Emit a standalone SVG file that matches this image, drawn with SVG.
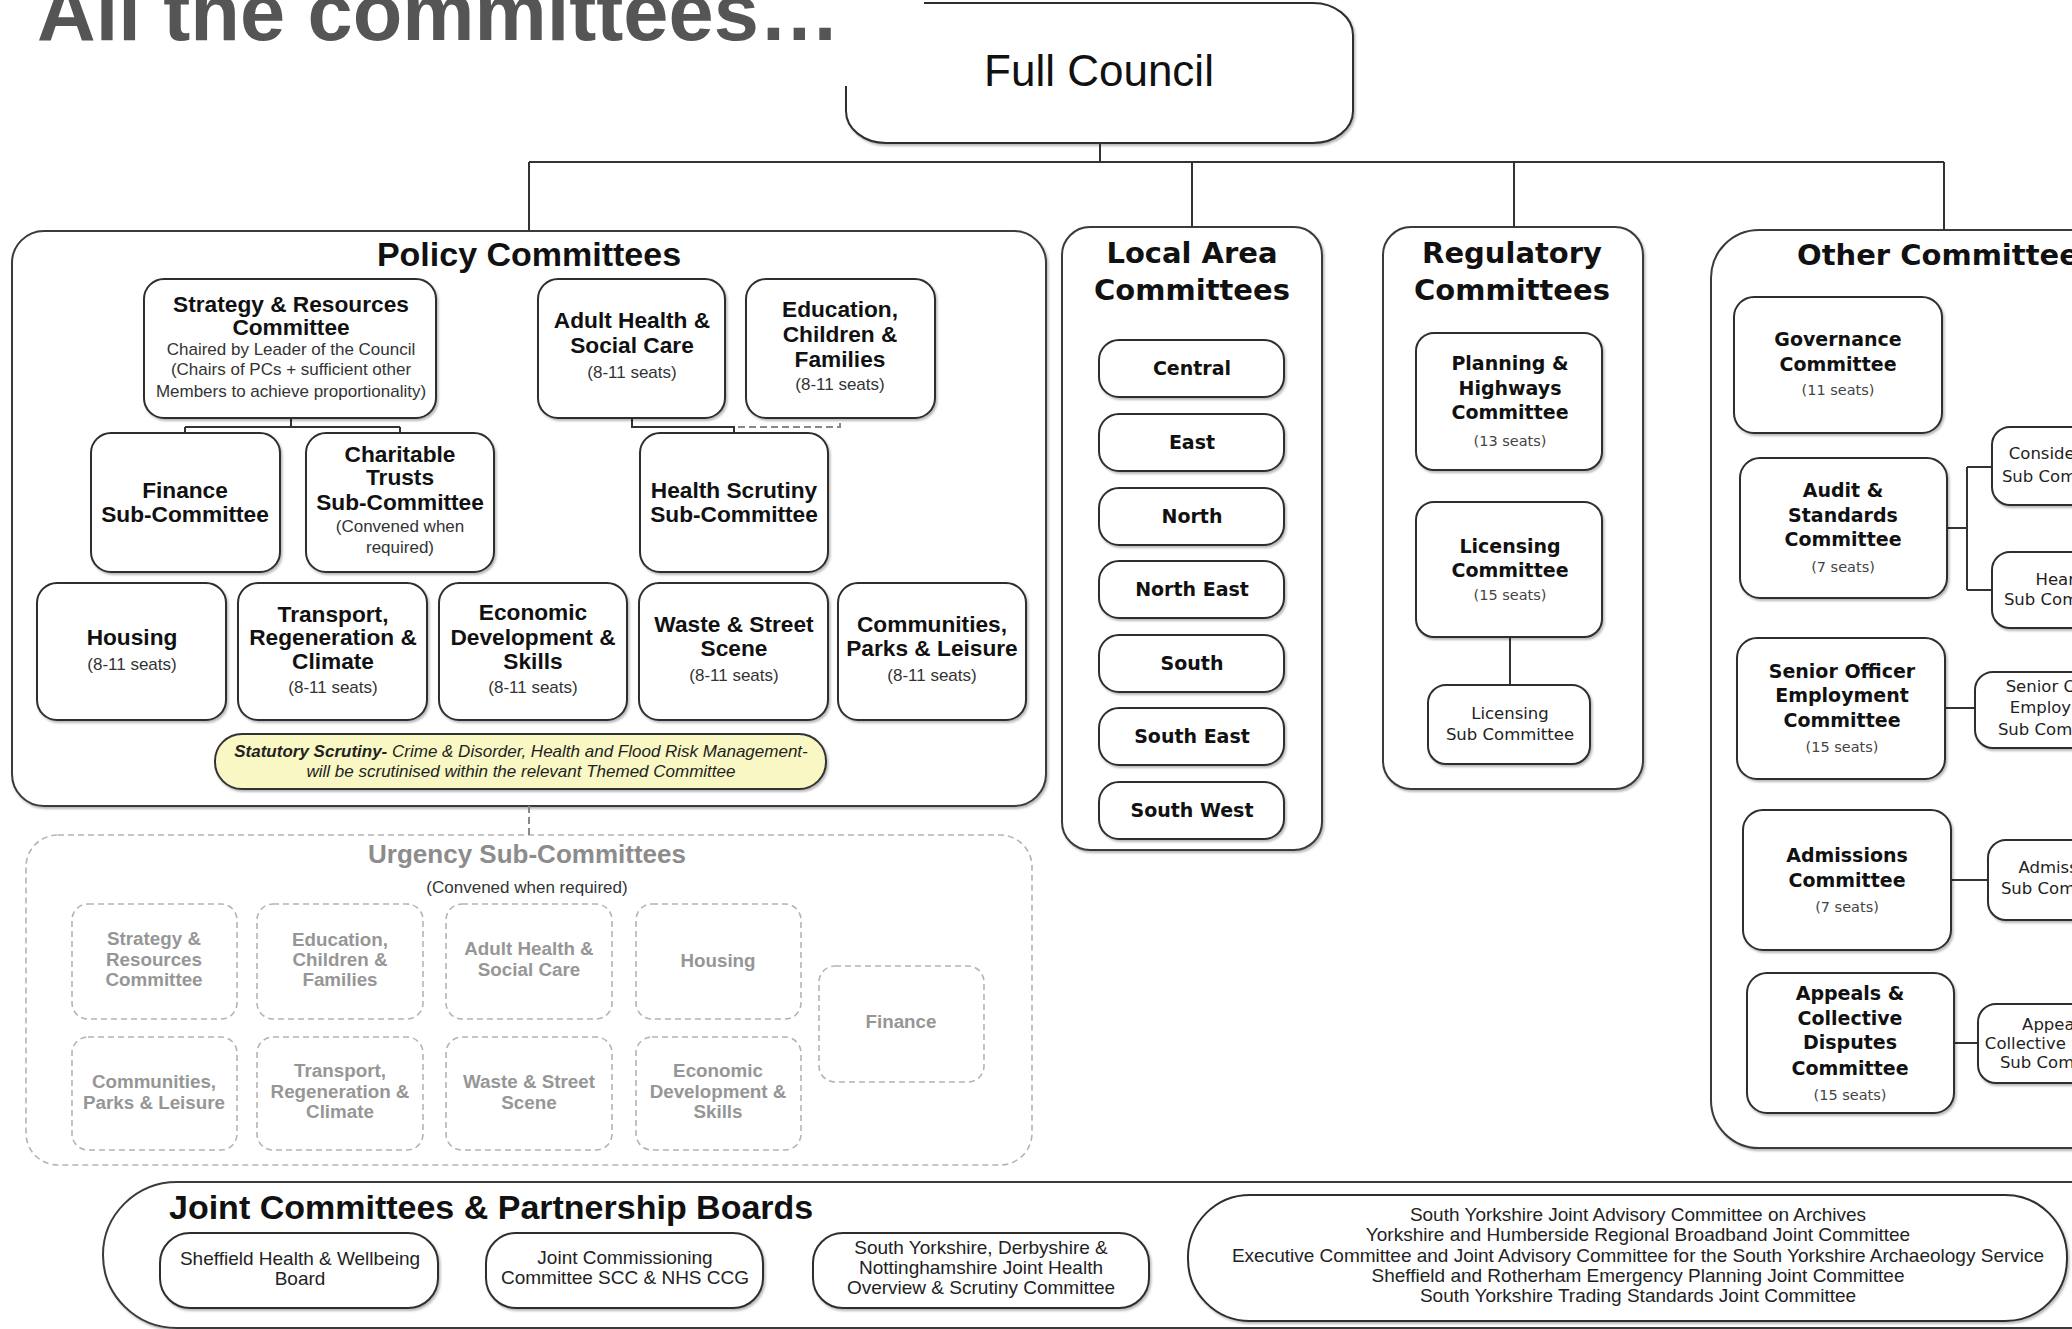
<svg xmlns="http://www.w3.org/2000/svg" width="2072" height="1329" viewBox="0 0 2072 1329">
<defs>
<filter id="sh" x="-10%" y="-10%" width="130%" height="130%"><feDropShadow dx="1.5" dy="2" stdDeviation="1.2" flood-color="#000" flood-opacity="0.28"/></filter>
<style>
.box{fill:#fff;stroke:#2e2e2e;stroke-width:2;filter:url(#sh)}
.sec{fill:#fff;stroke:#3a3a3a;stroke-width:2;filter:url(#sh)}
.dbox{fill:#fff;stroke:#b4b4b4;stroke-width:1.6;stroke-dasharray:6 4}
.ln{stroke:#333;stroke-width:2;fill:none}
.dl{stroke:#888;stroke-width:2;fill:none;stroke-dasharray:7 4}
.stat{fill:#f9f8c4;stroke:#333;stroke-width:2;filter:url(#sh)}
text{text-anchor:middle}
.pb{font-family:"Liberation Sans",Arial,sans-serif;font-weight:bold;font-size:22.7px;fill:#111}
.ps{font-family:"Liberation Sans",Arial,sans-serif;font-size:17px;fill:#333}
.vb{font-family:"DejaVu Sans",Verdana,sans-serif;font-weight:bold;font-size:19px;fill:#111}
.vs{font-family:"DejaVu Sans",Verdana,sans-serif;font-size:14.5px;fill:#444}
.vt{font-family:"DejaVu Sans",Verdana,sans-serif;font-weight:bold;font-size:29px;fill:#111}
.vsub{font-family:"DejaVu Sans",Verdana,sans-serif;font-size:16.5px;fill:#222}
.ub{font-family:"Liberation Sans",Arial,sans-serif;font-weight:bold;font-size:18.8px;fill:#969696}
.jt{font-family:"Liberation Sans",Arial,sans-serif;font-size:19px;fill:#222}
.st{font-family:"Liberation Sans",Arial,sans-serif;font-style:italic;font-size:17px;fill:#222}
</style>
</defs>
<rect width="2072" height="1329" fill="#fff"/>

<g id="full-council">
<rect class="box" x="846" y="3" width="507" height="140" rx="40" ry="32"/>
<rect x="0" y="0" width="924" height="86" fill="#fff"/>
<text x="1099" y="86" style="font-family:'Liberation Sans',Arial,sans-serif;font-size:44px;fill:#111">Full Council</text>
</g>
<g id="title">
<text x="37" y="40" textLength="803" lengthAdjust="spacingAndGlyphs" style="text-anchor:start;font-family:'Liberation Sans',Arial,sans-serif;font-weight:bold;font-size:82px;fill:#555">All the committees…</text>
</g>

<g id="sections">
<rect id="policy-committees" class="sec" x="12" y="231" width="1034" height="575" rx="32"/>
<rect id="urgency-sub-committees" class="dbox" x="26" y="835" width="1006" height="330" rx="32"/>
<rect id="local-area-committees" class="sec" x="1062" y="227" width="260" height="623" rx="28"/>
<rect id="regulatory-committees" class="sec" x="1383" y="227" width="260" height="562" rx="28"/>
<rect id="other-committees" class="sec" x="1711" y="230" width="500" height="918" rx="48"/>
<rect id="joint-committees" class="sec" x="103" y="1182" width="2120" height="146" rx="74" ry="73"/>
<text x="529" y="266" style="font-family:'Liberation Sans',Arial,sans-serif;font-weight:bold;font-size:34px;fill:#111">Policy Committees</text>
<text x="527" y="863" style="font-family:'Liberation Sans',Arial,sans-serif;font-weight:bold;font-size:26px;fill:#8c8c8c">Urgency Sub-Committees</text>
<text x="527" y="893" class="ps">(Convened when required)</text>
<text x="1192" y="263" class="vt">Local Area</text>
<text x="1192" y="300" class="vt">Committees</text>
<text x="1512" y="263" class="vt">Regulatory</text>
<text x="1512" y="300" class="vt">Committees</text>
<text x="1797" y="265" class="vt" style="text-anchor:start">Other Committees</text>
<text x="169" y="1219" style="text-anchor:start;font-family:'Liberation Sans',Arial,sans-serif;font-weight:bold;font-size:34px;fill:#111">Joint Committees &amp; Partnership Boards</text>
</g>

<g id="connectors">
<path class="ln" d="M1100,143 V162 M529,162 H1944 M529,162 V231 M1192,162 V227 M1514,162 V227 M1944,162 V231"/>
<path class="ln" d="M291,418 V427 M185,427 H400 M185,427 V433 M400,427 V433"/>
<path class="ln" d="M632,418 V427 H734 V433"/>
<path class="dl" d="M738,427 H840 V418"/>
<path class="dl" d="M529,806 V835"/>
<path class="ln" d="M1510,637 V685"/>
<path class="ln" d="M1947,528 H1967 M1967,467 V590 M1967,467 H1992 M1967,590 H1992"/>
<path class="ln" d="M1945,708 H1975"/>
<path class="ln" d="M1951,880 H1988"/>
<path class="ln" d="M1954,1043 H1978"/>
</g>

<g id="strategy-resources"><rect class="box" x="144" y="279" width="292" height="139" rx="20"/>
<text x="291" y="312" class="pb">Strategy &amp; Resources</text><text x="291" y="335" class="pb">Committee</text>
<text x="291" y="355" class="ps">Chaired by Leader of the Council</text>
<text x="291" y="375" class="ps">(Chairs of PCs + sufficient other</text>
<text x="291" y="397" class="ps">Members to achieve proportionality)</text></g>
<g id="adult-health"><rect class="box" x="538" y="279" width="187" height="139" rx="20"/>
<text x="632" y="328" class="pb">Adult Health &amp;</text><text x="632" y="353" class="pb">Social Care</text>
<text x="632" y="378" class="ps">(8-11 seats)</text></g>
<g id="education"><rect class="box" x="746" y="279" width="189" height="139" rx="20"/>
<text x="840" y="317" class="pb">Education,</text><text x="840" y="342" class="pb">Children &amp;</text><text x="840" y="367" class="pb">Families</text>
<text x="840" y="390" class="ps">(8-11 seats)</text></g>
<g id="finance-sub"><rect class="box" x="91" y="433" width="189" height="139" rx="20"/>
<text x="185" y="498" class="pb">Finance</text><text x="185" y="522" class="pb">Sub-Committee</text></g>
<g id="charitable-trusts"><rect class="box" x="306" y="433" width="188" height="139" rx="20"/>
<text x="400" y="462" class="pb">Charitable</text><text x="400" y="485" class="pb">Trusts</text><text x="400" y="510" class="pb">Sub-Committee</text>
<text x="400" y="532" class="ps">(Convened when</text><text x="400" y="553" class="ps">required)</text></g>
<g id="health-scrutiny"><rect class="box" x="640" y="433" width="188" height="139" rx="20"/>
<text x="734" y="498" class="pb">Health Scrutiny</text><text x="734" y="522" class="pb">Sub-Committee</text></g>
<g id="housing"><rect class="box" x="37" y="583" width="189" height="137" rx="20"/>
<text x="132" y="645" class="pb">Housing</text><text x="132" y="670" class="ps">(8-11 seats)</text></g>
<g id="transport"><rect class="box" x="238" y="583" width="189" height="137" rx="20"/>
<text x="333" y="622" class="pb">Transport,</text><text x="333" y="645" class="pb">Regeneration &amp;</text><text x="333" y="669" class="pb">Climate</text>
<text x="333" y="693" class="ps">(8-11 seats)</text></g>
<g id="economic"><rect class="box" x="439" y="583" width="188" height="137" rx="20"/>
<text x="533" y="620" class="pb">Economic</text><text x="533" y="645" class="pb">Development &amp;</text><text x="533" y="669" class="pb">Skills</text>
<text x="533" y="693" class="ps">(8-11 seats)</text></g>
<g id="waste"><rect class="box" x="639" y="583" width="189" height="137" rx="20"/>
<text x="734" y="632" class="pb">Waste &amp; Street</text><text x="734" y="656" class="pb">Scene</text>
<text x="734" y="681" class="ps">(8-11 seats)</text></g>
<g id="communities"><rect class="box" x="838" y="583" width="188" height="137" rx="20"/>
<text x="932" y="632" class="pb">Communities,</text><text x="932" y="656" class="pb">Parks &amp; Leisure</text>
<text x="932" y="681" class="ps">(8-11 seats)</text></g>
<g id="statutory-scrutiny"><rect class="stat" x="215" y="734" width="611" height="55" rx="27"/>
<text x="521" y="757" class="st"><tspan font-weight="bold">Statutory Scrutiny-</tspan> Crime &amp; Disorder, Health and Flood Risk Management-</text>
<text x="521" y="777" class="st">will be scrutinised within the relevant Themed Committee</text></g>

<g id="urg-strategy"><rect class="dbox" x="72" y="904" width="165" height="115" rx="16"/>
<text x="154" y="945" class="ub">Strategy &amp;</text><text x="154" y="966" class="ub">Resources</text><text x="154" y="986" class="ub">Committee</text></g>
<g id="urg-education"><rect class="dbox" x="257" y="904" width="166" height="115" rx="16"/>
<text x="340" y="946" class="ub">Education,</text><text x="340" y="966" class="ub">Children &amp;</text><text x="340" y="986" class="ub">Families</text></g>
<g id="urg-adult-health"><rect class="dbox" x="446" y="904" width="166" height="115" rx="16"/>
<text x="529" y="955" class="ub">Adult Health &amp;</text><text x="529" y="976" class="ub">Social Care</text></g>
<g id="urg-housing"><rect class="dbox" x="636" y="904" width="165" height="115" rx="16"/>
<text x="718" y="967" class="ub">Housing</text></g>
<g id="urg-finance"><rect class="dbox" x="819" y="966" width="165" height="116" rx="16"/>
<text x="901" y="1028" class="ub">Finance</text></g>
<g id="urg-communities"><rect class="dbox" x="72" y="1037" width="165" height="113" rx="16"/>
<text x="154" y="1088" class="ub">Communities,</text><text x="154" y="1109" class="ub">Parks &amp; Leisure</text></g>
<g id="urg-transport"><rect class="dbox" x="257" y="1037" width="166" height="113" rx="16"/>
<text x="340" y="1077" class="ub">Transport,</text><text x="340" y="1098" class="ub">Regeneration &amp;</text><text x="340" y="1118" class="ub">Climate</text></g>
<g id="urg-waste"><rect class="dbox" x="446" y="1037" width="166" height="113" rx="16"/>
<text x="529" y="1088" class="ub">Waste &amp; Street</text><text x="529" y="1109" class="ub">Scene</text></g>
<g id="urg-economic"><rect class="dbox" x="636" y="1037" width="165" height="113" rx="16"/>
<text x="718" y="1077" class="ub">Economic</text><text x="718" y="1098" class="ub">Development &amp;</text><text x="718" y="1118" class="ub">Skills</text></g>

<g id="lac-central"><rect class="box" x="1099" y="340" width="185" height="57" rx="20"/><text x="1192" y="375" class="vb">Central</text></g>
<g id="lac-east"><rect class="box" x="1099" y="414" width="185" height="57" rx="20"/><text x="1192" y="449" class="vb">East</text></g>
<g id="lac-north"><rect class="box" x="1099" y="488" width="185" height="57" rx="20"/><text x="1192" y="523" class="vb">North</text></g>
<g id="lac-north-east"><rect class="box" x="1099" y="561" width="185" height="57" rx="20"/><text x="1192" y="596" class="vb">North East</text></g>
<g id="lac-south"><rect class="box" x="1099" y="635" width="185" height="57" rx="20"/><text x="1192" y="670" class="vb">South</text></g>
<g id="lac-south-east"><rect class="box" x="1099" y="708" width="185" height="57" rx="20"/><text x="1192" y="743" class="vb">South East</text></g>
<g id="lac-south-west"><rect class="box" x="1099" y="782" width="185" height="57" rx="20"/><text x="1192" y="817" class="vb">South West</text></g>

<g id="planning"><rect class="box" x="1416" y="333" width="186" height="137" rx="18"/>
<text x="1510" y="370" class="vb">Planning &amp;</text><text x="1510" y="395" class="vb">Highways</text><text x="1510" y="419" class="vb">Committee</text>
<text x="1510" y="446" class="vs">(13 seats)</text></g>
<g id="licensing"><rect class="box" x="1416" y="502" width="186" height="135" rx="18"/>
<text x="1510" y="553" class="vb">Licensing</text><text x="1510" y="577" class="vb">Committee</text>
<text x="1510" y="600" class="vs">(15 seats)</text></g>
<g id="licensing-sub"><rect class="box" x="1428" y="685" width="162" height="79" rx="18"/>
<text x="1510" y="719" class="vsub">Licensing</text><text x="1510" y="740" class="vsub">Sub Committee</text></g>

<g id="governance"><rect class="box" x="1734" y="297" width="208" height="136" rx="20"/>
<text x="1838" y="346" class="vb">Governance</text><text x="1838" y="371" class="vb">Committee</text><text x="1838" y="395" class="vs">(11 seats)</text></g>
<g id="audit-standards"><rect class="box" x="1740" y="458" width="207" height="140" rx="20"/>
<text x="1843" y="497" class="vb">Audit &amp;</text><text x="1843" y="522" class="vb">Standards</text><text x="1843" y="546" class="vb">Committee</text><text x="1843" y="572" class="vs">(7 seats)</text></g>
<g id="senior-officer"><rect class="box" x="1737" y="638" width="208" height="141" rx="20"/>
<text x="1842" y="678" class="vb">Senior Officer</text><text x="1842" y="702" class="vb">Employment</text><text x="1842" y="727" class="vb">Committee</text><text x="1842" y="752" class="vs">(15 seats)</text></g>
<g id="admissions"><rect class="box" x="1743" y="810" width="208" height="140" rx="20"/>
<text x="1847" y="862" class="vb">Admissions</text><text x="1847" y="887" class="vb">Committee</text><text x="1847" y="912" class="vs">(7 seats)</text></g>
<g id="appeals"><rect class="box" x="1747" y="973" width="207" height="140" rx="20"/>
<text x="1850" y="1000" class="vb">Appeals &amp;</text><text x="1850" y="1025" class="vb">Collective</text><text x="1850" y="1049" class="vb">Disputes</text><text x="1850" y="1075" class="vb">Committee</text><text x="1850" y="1100" class="vs">(15 seats)</text></g>
<g id="consideration-sub"><rect class="box" x="1992" y="427" width="160" height="78" rx="18"/>
<text x="2066" y="459" class="vsub">Consideration</text><text x="2066" y="482" class="vsub">Sub Committee</text></g>
<g id="hearing-sub"><rect class="box" x="1992" y="552" width="160" height="76" rx="18"/>
<text x="2068" y="585" class="vsub">Hearing</text><text x="2068" y="605" class="vsub">Sub Committee</text></g>
<g id="senior-officer-sub"><rect class="box" x="1975" y="672" width="180" height="76" rx="18"/>
<text x="2062" y="692" class="vsub">Senior Officer</text><text x="2062" y="713" class="vsub">Employment</text><text x="2062" y="735" class="vsub">Sub Committee</text></g>
<g id="admissions-sub"><rect class="box" x="1988" y="840" width="165" height="80" rx="18"/>
<text x="2065" y="873" class="vsub">Admissions</text><text x="2065" y="894" class="vsub">Sub Committee</text></g>
<g id="appeals-sub"><rect class="box" x="1978" y="1004" width="175" height="79" rx="18"/>
<text x="2064" y="1030" class="vsub">Appeals &amp;</text><text x="2064" y="1049" class="vsub">Collective Disputes</text><text x="2064" y="1068" class="vsub">Sub Committee</text></g>

<g id="sheffield-hwb"><rect class="box" x="160" y="1233" width="278" height="75" rx="30"/>
<text x="300" y="1265" class="jt">Sheffield Health &amp; Wellbeing</text><text x="300" y="1285" class="jt">Board</text></g>
<g id="joint-commissioning"><rect class="box" x="486" y="1233" width="277" height="75" rx="30"/>
<text x="625" y="1264" class="jt">Joint Commissioning</text><text x="625" y="1284" class="jt">Committee SCC &amp; NHS CCG</text></g>
<g id="joint-health-scrutiny"><rect class="box" x="813" y="1233" width="336" height="75" rx="30"/>
<text x="981" y="1254" class="jt">South Yorkshire, Derbyshire &amp;</text><text x="981" y="1274" class="jt">Nottinghamshire Joint Health</text><text x="981" y="1294" class="jt">Overview &amp; Scrutiny Committee</text></g>
<g id="joint-list"><rect class="box" x="1188" y="1195" width="879" height="126" rx="62" ry="62"/>
<text x="1638" y="1221" class="jt">South Yorkshire Joint Advisory Committee on Archives</text>
<text x="1638" y="1241" class="jt">Yorkshire and Humberside Regional Broadband Joint Committee</text>
<text x="1638" y="1262" class="jt">Executive Committee and Joint Advisory Committee for the South Yorkshire Archaeology Service</text>
<text x="1638" y="1282" class="jt">Sheffield and Rotherham Emergency Planning Joint Committee</text>
<text x="1638" y="1302" class="jt">South Yorkshire Trading Standards Joint Committee</text></g>
</svg>
